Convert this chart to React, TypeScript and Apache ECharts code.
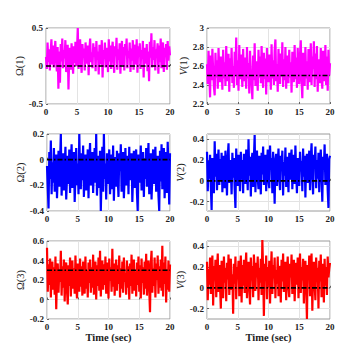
import React, { useEffect, useRef } from 'react';
import * as echarts from 'echarts';

// sampling step of the recorded signals (sec)
const DT = 0.125;
const xTicks = [0, 5, 10, 15, 20];

const omega1 = [
  0.12, -0.04, 0.31, 0.05, 0.22, -0.06, 0.18, 0.35, 0.02, 0.27,
  -0.02, 0.14, 0.33, 0.08, -0.07, 0.25, -0.30, 0.19, -0.22, 0.29,
  0.06, 0.36, -0.03, 0.21, 0.10, 0.34, -0.08, 0.16, 0.28, -0.31,
  0.13, 0.24, -0.05, 0.30, 0.09, -0.10, 0.26, 0.04, 0.32, 0.00,
  0.20, 0.50, -0.04, 0.17, 0.35, 0.07, -0.09, 0.29, 0.11, 0.23,
  -0.06, 0.31, 0.15, 0.03, 0.27, -0.12, 0.22, 0.36, 0.05, 0.18,
  -0.03, 0.30, 0.12, 0.25, -0.07, 0.33, 0.08, 0.19, -0.11, 0.28,
  0.14, 0.02, 0.34, -0.15, 0.21, 0.09, 0.31, -0.02, 0.24, 0.16,
  -0.08, 0.35, 0.06, 0.27, -0.04, 0.19, 0.32, 0.10, -0.09, 0.26,
  0.13, 0.37, -0.05, 0.22, 0.08, 0.30, -0.10, 0.17, 0.33, 0.01,
  0.25, -0.06, 0.29, 0.14, 0.36, -0.03, 0.20, 0.11, 0.31, -0.08,
  0.23, 0.07, 0.34, -0.05, 0.18, 0.28, 0.02, 0.35, -0.09, 0.26,
  0.12, 0.30, -0.04, 0.21, 0.09, 0.33, -0.15, 0.24, 0.16, 0.03,
  0.29, -0.07, 0.19, -0.20, 0.32, 0.11, 0.43, -0.02, 0.25, 0.08,
  0.34, -0.06, 0.22, 0.15, 0.30, -0.10, 0.27, 0.05, 0.36, -0.03,
  0.20, 0.31, -0.08, 0.24, 0.12, 0.29, -0.05, 0.33, 0.07, 0.26,
  0.14,
];

const v1 = [
  2.62, 2.41, 2.76, 2.50, 2.27, 2.71, 2.45, 2.78, 2.55, 2.38,
  2.29, 2.74, 2.48, 2.66, 2.36, 2.79, 2.52, 2.43, 2.70, 2.58,
  2.35, 2.77, 2.47, 2.64, 2.39, 2.81, 2.54, 2.44, 2.73, 2.33,
  2.68, 2.49, 2.79, 2.42, 2.60, 2.37, 2.75, 2.51, 2.90, 2.40,
  2.66, 2.34, 2.82, 2.46, 2.72, 2.56, 2.38, 2.78, 2.44, 2.69,
  2.53, 2.36, 2.80, 2.47, 2.63, 2.31, 2.76, 2.50, 2.41, 2.25,
  2.71, 2.45, 2.84, 2.39, 2.65, 2.52, 2.34, 2.77, 2.48, 2.70,
  2.42, 2.81, 2.55, 2.37, 2.74, 2.46, 2.68, 2.30, 2.79, 2.51,
  2.43, 2.72, 2.59, 2.35, 2.83, 2.47, 2.66, 2.40, 2.76, 2.88,
  2.44, 2.62, 2.33, 2.78, 2.53, 2.41, 2.73, 2.49, 2.85, 2.38,
  2.67, 2.45, 2.80, 2.36, 2.71, 2.55, 2.42, 2.77, 2.48, 2.64,
  2.32, 2.75, 2.50, 2.43, 2.82, 2.46, 2.69, 2.37, 2.79, 2.54,
  2.41, 2.72, 2.87, 2.44, 2.26, 2.74, 2.51, 2.39, 2.80, 2.47,
  2.65, 2.35, 2.78, 2.52, 2.43, 2.84, 2.40, 2.70, 2.57, 2.86,
  2.38, 2.73, 2.46, 2.81, 2.33, 2.67, 2.53, 2.42, 2.79, 2.49,
  2.36, 2.76, 2.55, 2.44, 2.82, 2.40, 2.70, 2.34, 2.77, 2.50,
  2.63,
];

const omega2 = [
  -0.05, -0.22, -0.38, 0.06, -0.15, 0.15, -0.27, -0.02, -0.18, 0.09,
  -0.25, -0.08, 0.04, -0.30, -0.12, 0.07, -0.21, -0.01, 0.20, -0.28,
  -0.10, 0.05, -0.24, -0.06, 0.10, -0.31, -0.14, 0.03, -0.19, 0.08,
  -0.26, -0.04, 0.12, -0.22, -0.09, 0.06, -0.33, -0.13, 0.09, -0.20,
  -0.03, -0.27, 0.20, -0.11, -0.23, 0.05, -0.16, 0.11, -0.29, -0.07,
  0.04, -0.24, -0.12, 0.08, -0.30, -0.02, 0.13, -0.20, -0.10, 0.06,
  -0.26, -0.05, 0.09, -0.18, 0.20, -0.28, -0.08, 0.03, -0.22, 0.07,
  -0.40, -0.12, 0.10, -0.25, 0.20, -0.15, -0.03, -0.31, 0.05, -0.19,
  -0.07, 0.08, -0.27, -0.11, 0.04, -0.23, 0.11, -0.32, -0.06, 0.02,
  -0.21, 0.07, -0.14, -0.29, 0.05, -0.09, 0.12, -0.25, -0.04, 0.06,
  -0.30, -0.13, 0.09, -0.20, -0.05, 0.03, -0.27, 0.10, -0.16, -0.08,
  0.05, -0.33, -0.11, 0.07, -0.22, -0.02, 0.08, -0.26, -0.40, 0.04,
  -0.18, -0.07, 0.11, -0.24, -0.10, 0.06, -0.29, 0.01, -0.15, 0.09,
  -0.21, -0.04, 0.13, -0.27, -0.09, 0.05, -0.31, -0.12, 0.08, -0.19,
  -0.06, 0.10, -0.25, -0.14, 0.03, -0.28, -0.40, 0.07, -0.17, 0.12,
  -0.23, -0.03, 0.09, -0.30, -0.11, 0.06, -0.26, 0.14, -0.08, -0.35,
  0.05,
];

const v2 = [
  0.28, -0.10, 0.19, 0.02, 0.25, -0.06, -0.28, 0.22, 0.08, -0.12,
  0.38, 0.04, 0.26, -0.09, 0.15, 0.30, -0.04, 0.21, 0.00, 0.27,
  -0.11, 0.17, 0.24, -0.07, 0.29, 0.06, -0.14, 0.23, 0.36, -0.02,
  0.20, 0.11, -0.13, 0.27, 0.03, 0.22, -0.08, -0.26, 0.31, 0.09,
  -0.05, 0.25, 0.14, -0.10, 0.28, 0.01, 0.20, -0.12, 0.26, 0.07,
  -0.03, 0.30, 0.12, -0.09, 0.40, 0.05, 0.23, -0.15, 0.18, 0.27,
  -0.06, 0.21, 0.44, -0.11, 0.16, 0.29, 0.02, -0.08, 0.24, 0.10,
  -0.13, 0.27, 0.06, 0.33, -0.04, 0.19, 0.25, -0.10, 0.14, 0.30,
  0.00, -0.07, 0.34, 0.11, 0.22, -0.12, 0.28, 0.08, -0.22, 0.20,
  0.26, -0.05, 0.15, 0.31, 0.03, -0.09, 0.24, 0.12, 0.29, -0.14,
  0.18, 0.05, 0.32, -0.06, 0.23, 0.10, -0.11, 0.27, 0.01, 0.21,
  0.30, -0.08, 0.16, 0.25, -0.03, 0.34, 0.07, -0.12, 0.22, 0.13,
  -0.05, 0.28, 0.09, 0.19, -0.10, 0.31, 0.04, 0.24, -0.16, 0.17,
  0.26, -0.02, 0.12, 0.29, -0.09, 0.21, 0.36, 0.06, -0.13, 0.25,
  0.14, 0.33, -0.07, 0.20, 0.02, 0.27, -0.11, 0.18, 0.30, 0.05,
  -0.20, 0.23, 0.11, 0.35, -0.04, 0.16, 0.26, -0.09, -0.26, 0.21,
  0.24,
];

const omega3 = [
  0.53, 0.08, 0.36, 0.15, 0.42, 0.02, 0.28, 0.39, 0.10, 0.33,
  0.05, 0.44, -0.10, 0.25, 0.37, 0.07, 0.31, 0.18, 0.50, 0.04,
  0.34, 0.12, 0.41, -0.02, 0.27, 0.38, 0.09, -0.05, 0.35, 0.14,
  0.43, 0.03, 0.29, 0.40, 0.11, 0.32, 0.06, 0.45, 0.16, 0.01,
  0.37, 0.24, 0.08, 0.42, 0.13, 0.34, 0.04, 0.39, 0.20, 0.06,
  0.44, 0.11, 0.30, 0.02, 0.38, 0.17, 0.41, 0.07, 0.33, 0.12,
  0.46, 0.05, 0.26, 0.39, 0.00, 0.35, 0.14, 0.43, 0.09, 0.50,
  0.03, 0.31, 0.40, 0.10, 0.36, 0.15, 0.44, 0.06, 0.28, 0.38,
  0.01, 0.42, 0.19, 0.33, 0.08, 0.52, 0.13, 0.37, 0.04, 0.30,
  0.41, 0.09, 0.35, 0.16, 0.45, 0.02, 0.32, 0.11, 0.39, 0.07,
  0.43, 0.18, 0.27, 0.05, 0.40, 0.12, 0.34, 0.00, 0.37, 0.14,
  0.46, 0.06, 0.31, 0.41, 0.09, 0.29, 0.03, 0.38, 0.15, 0.44,
  0.08, 0.35, 0.01, 0.42, 0.17, 0.33, 0.05, 0.39, 0.11, 0.47,
  0.04, 0.30, 0.40, 0.10, -0.13, 0.36, 0.50, 0.07, 0.32, 0.14,
  0.43, 0.02, 0.37, 0.20, 0.45, 0.06, 0.34, 0.12, 0.41, 0.09,
  0.55, 0.03, 0.38, 0.16, 0.44, -0.03, 0.31, 0.10, 0.40, 0.08,
  0.36,
];

const v3 = [
  0.25, -0.12, 0.18, 0.03, 0.29, -0.06, 0.14, 0.31, -0.17, 0.21,
  0.07, 0.27, -0.09, 0.16, 0.33, -0.04, 0.22, 0.01, -0.20, 0.26,
  0.11, -0.10, 0.30, 0.05, 0.19, -0.13, 0.24, 0.08, 0.32, -0.07,
  0.17, 0.28, -0.02, 0.13, -0.25, 0.23, 0.04, 0.30, -0.11, 0.20,
  0.09, 0.26, -0.08, 0.15, 0.31, -0.14, 0.22, 0.02, 0.27, -0.05,
  0.18, 0.34, -0.10, 0.12, 0.25, 0.00, -0.16, 0.29, 0.07, 0.21,
  -0.09, 0.32, 0.14, -0.03, 0.24, 0.10, 0.30, -0.12, 0.19, 0.05,
  0.28, -0.07, 0.46, 0.16, -0.27, 0.23, 0.08, 0.31, -0.11, 0.20,
  0.02, 0.26, -0.15, 0.13, 0.35, -0.06, 0.22, 0.09, 0.29, -0.10,
  0.17, 0.04, 0.30, -0.08, 0.21, 0.12, -0.14, 0.27, 0.06, 0.33,
  -0.04, 0.19, 0.25, -0.12, 0.14, 0.30, 0.01, -0.09, 0.23, 0.10,
  0.32, -0.06, 0.18, 0.27, -0.13, 0.08, 0.24, 0.03, 0.29, -0.10,
  0.15, 0.33, -0.05, 0.20, 0.07, 0.28, -0.15, 0.12, 0.26, 0.00,
  -0.30, 0.22, 0.09, 0.31, -0.08, 0.17, 0.33, -0.22, 0.14, 0.25,
  0.04, -0.12, 0.29, 0.11, 0.19, -0.20, 0.26, 0.06, 0.32, -0.09,
  0.16, 0.23, -0.14, 0.28, 0.02, 0.20, -0.07, 0.30, 0.10, 0.18,
  0.24,
];

// reference (desired) values
const refValues = [0, 2.5, 0, 0, 0.3, 0];
const yLabels = ['Ω(1)', '{v|V}(1)', 'Ω(2)', '{v|V}(2)', 'Ω(3)', '{v|V}(3)'];
const yMins = [-0.5, 2.2, -0.4, -0.29, -0.2, -0.3];
const yMaxs = [0.5, 3, 0.2, 0.45, 0.6, 0.45];
const yTicks = [
  [-0.5, 0, 0.5],
  [2.2, 2.4, 2.6, 2.8, 3],
  [-0.4, -0.2, 0, 0.2],
  [-0.2, 0, 0.2, 0.4],
  [-0.2, 0, 0.2, 0.4, 0.6],
  [-0.2, 0, 0.2, 0.4],
];
const seriesData = [omega1, v1, omega2, v2, omega3, v3];
const colors = ['#ff00ff', '#ff00ff', '#0000ff', '#0000ff', '#ff0000', '#ff0000'];

const grids = [
  { left: 46, top: 28, width: 124, height: 76 },
  { left: 207, top: 28, width: 123, height: 76 },
  { left: 47, top: 134, width: 123, height: 77 },
  { left: 207, top: 134, width: 123, height: 77 },
  { left: 47, top: 241, width: 123, height: 78 },
  { left: 207, top: 241, width: 123, height: 78 },
];
const nameGaps = [16, 14, 14, 17, 16, 17];

const SERIF = "'Liberation Serif', 'Times New Roman', serif";

export default function App() {
  const ref = useRef<HTMLDivElement>(null);
  useEffect(() => {
    if (!ref.current) return;
    const chart = echarts.init(ref.current, null, { renderer: 'svg' });
    const xAxis: any[] = [];
    const yAxis: any[] = [];
    const series: any[] = [];
    grids.forEach((g, k) => {
      const bottom = k >= 4;
      xAxis.push({
        gridIndex: k,
        type: 'value',
        min: 0,
        max: 20,
        interval: 5,
        axisLine: { show: false },
        axisTick: { show: true, inside: true, length: 2, lineStyle: { color: '#666' } },
        axisLabel: {
          margin: 3,
          fontFamily: SERIF,
          fontWeight: 'bold',
          fontSize: 9,
          color: '#222',
          formatter: (v: number) => (xTicks.indexOf(v) >= 0 ? String(v) : ''),
        },
        splitLine: { show: true, lineStyle: { color: '#e3e3e3', width: 1 } },
        name: bottom ? 'Time (sec)' : '',
        nameLocation: 'middle',
        nameGap: 12,
        nameTextStyle: { fontFamily: SERIF, fontWeight: 'bold', fontSize: 10.5, color: '#222' },
      });
      yAxis.push({
        gridIndex: k,
        type: 'value',
        min: yMins[k],
        max: yMaxs[k],
        axisLine: { show: false },
        axisTick: { show: true, inside: true, length: 2, customValues: yTicks[k], lineStyle: { color: '#666' } },
        axisLabel: {
          margin: 3,
          customValues: yTicks[k],
          fontFamily: SERIF,
          fontWeight: 'bold',
          fontSize: 9,
          color: '#222',
          formatter: (v: number) => String(parseFloat(Number(v).toFixed(2))),
        },
        splitLine: { show: true, lineStyle: { color: '#e3e3e3', width: 1 } },
        name: yLabels[k],
        nameLocation: 'middle',
        nameGap: nameGaps[k],
        nameTextStyle: {
          fontFamily: SERIF,
          fontSize: 10.5,
          color: '#222',
          rich: { v: { fontFamily: SERIF, fontSize: 10.5, fontStyle: 'italic', color: '#222' } },
        },
      });
      series.push({
        type: 'line',
        xAxisIndex: k,
        yAxisIndex: k,
        data: seriesData[k].map((v, i) => [i * DT, v]),
        showSymbol: false,
        symbol: 'none',
        lineStyle: { color: colors[k], width: 2.2 },
        clip: true,
        z: 2,
      });
      series.push({
        type: 'line',
        xAxisIndex: k,
        yAxisIndex: k,
        data: [[0, refValues[k]], [20, refValues[k]]],
        showSymbol: false,
        symbol: 'none',
        lineStyle: { color: '#000', width: 1.7, type: [5, 2, 1.5, 2] },
        z: 3,
      });
    });
    chart.setOption({
      animation: false,
      backgroundColor: '#fff',
      grid: grids.map((g) => ({ ...g, show: true, borderColor: '#9a9a9a', borderWidth: 1, containLabel: false })),
      xAxis,
      yAxis,
      series,
    });
    return () => chart.dispose();
  }, []);
  return (
    <div
      ref={ref}
      style={{ position: 'absolute', left: 0, top: 0, width: 364, height: 358, background: '#fff' }}
    />
  );
}
